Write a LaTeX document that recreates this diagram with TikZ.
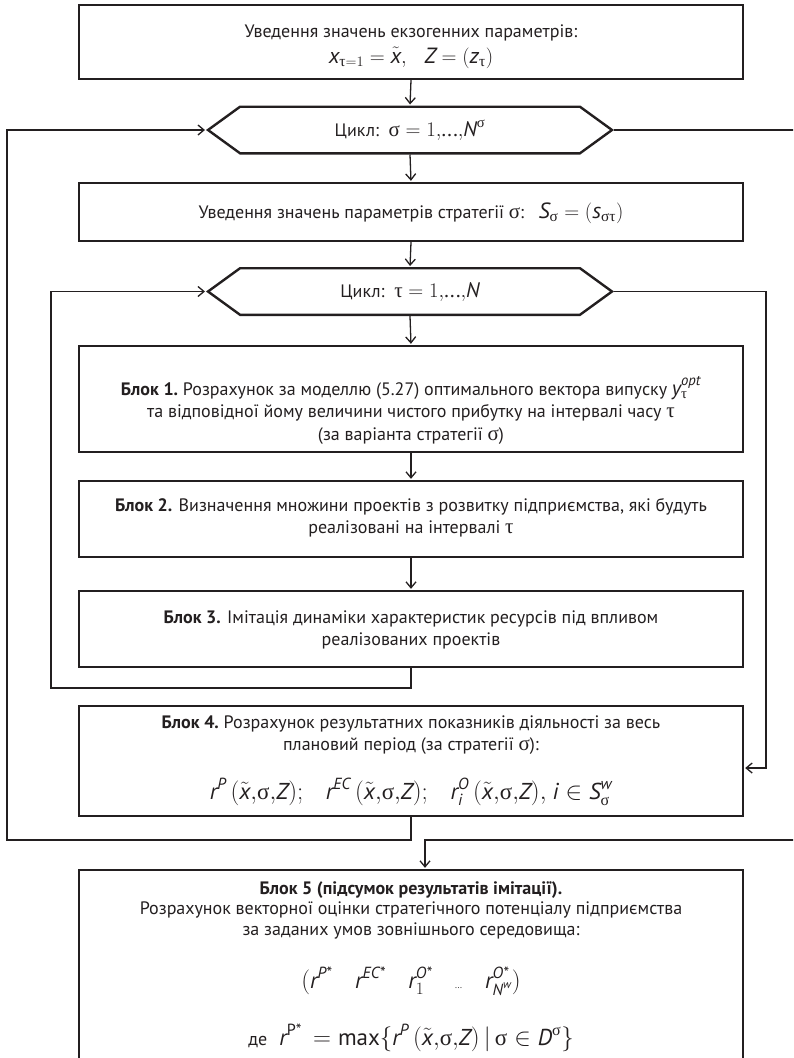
\documentclass[tikz,border=0pt]{standalone}
\usepackage{amsmath}
\usepackage{fontspec}
\setmainfont{PT Sans}
\newfontfamily\grk{Liberation Serif}
\usetikzlibrary{arrows.meta,shapes.symbols}
\newcommand\sgm{\text{\grk σ}}
\newcommand\tu{\text{\grk τ}}
\newcommand\vi[1]{\text{\itshape #1}}
\newcommand\xt{\tilde{\vi{x}}}
\newcommand\mg[1]{{\fontsize{21}{24}\selectfont #1}}
\definecolor{ink}{HTML}{231F20}
\begin{document}
\begin{tikzpicture}[x=1pt,y=-1pt,
  box/.style={draw=ink, line width=2.4pt, rectangle, minimum width=664pt, inner sep=0pt},
  hexa/.style={draw=ink, line width=2.4pt, signal, signal to=east and west, signal pointer angle=72, minimum width=404pt, minimum height=46.6pt, inner sep=0pt},
  txt/.style={align=center, inner sep=0pt, text=ink, font=\fontsize{18}{22.5}\selectfont},
  bigm/.style={font=\fontsize{23}{26}\selectfont},
  conn/.style={draw=ink, line width=1.3pt, shorten >=1pt, -{Straight Barb[length=6pt,width=10pt,line width=1.3pt]}}]
\useasboundingbox (0,0) rectangle (793,1058);
\clip (0,0) rectangle (793,1058);
% boxes and shapes
\node[box, minimum height=74pt] (top) at (411,42) {};
\node[txt] (ttop) at (411,46.5) {Уведення значень екзогенних параметрів:\\[3pt] {\fontsize{22}{24}\selectfont $\vi{x}_{\tu=1}=\xt{,}\ \ \ \vi{Z}=(\vi{z}_{\tu})$}};
\node[hexa] (hs) at (410,130) {};
\node[txt] (ths) at (410,130) {Цикл:\ \ \mg{$\sgm=1{,}\text{...}{,}\vi{N}^{\sgm}$}};
\node[box, minimum height=58pt] (par) at (411,212) {};
\node[txt] (tpar) at (411,213) {Уведення значень параметрів стратегії \mg{$\sgm$}:\ \ \ {\fontsize{22}{24}\selectfont$\vi{S}_{\sgm}=(\vi{s}_{\sgm\tu})$}};
\node[hexa] (ht) at (410,291.5) {};
\node[txt] (tht) at (410,292) {Цикл:\ \ \mg{$\tu=1{,}\text{...}{,}\vi{N}$}};
\node[box, minimum height=106pt] (b1) at (411,399) {};
\node[txt] (tb1) at (411,410) {\textbf{Блок 1.}\ Розрахунок за моделлю (5.27) оптимального вектора випуску \mg{$\vi{y}_{\tu}^{\vi{opt}}$}\\ та відповідної йому величини чистого прибутку на інтервалі часу \mg{$\tu$}\\ (за варіанта стратегії \mg{$\sgm$})};
\node[box, minimum height=76pt] (b2) at (411,519) {};
\node[txt] (tb2) at (411,518) {\textbf{Блок 2.} Визначення множини проектів з розвитку підприємства, які будуть\\ реалізовані на інтервалі \mg{$\tu$}};
\node[box, minimum height=76pt] (b3) at (411,629) {};
\node[txt] (tb3) at (411,630) {\textbf{Блок 3.} Імітація динаміки характеристик ресурсів під впливом\\ реалізованих проектів};
\node[box, minimum height=110.5pt] (b4) at (411,761) {};
\node[txt] (tb4) at (411,735) {\textbf{Блок 4.}\ Розрахунок результатних показників діяльності за весь\\ плановий період (за стратегії \mg{$\sgm$}):};
\node[txt, anchor=base] (mb4) at (411,799) {{\fontsize{23}{26}\selectfont $\vi{r}^{\vi{P}}\,(\xt{,}\sgm{,}\vi{Z});\ \ \ \vi{r}^{\vi{EC}}\,(\xt{,}\sgm{,}\vi{Z});\ \ \ \vi{r}_{\vi{i}}^{\vi{O}}\,(\xt{,}\sgm{,}\vi{Z}){,}\ \vi{i}\in \vi{S}_{\sgm}^{\vi{w}}$}};
\node[box, minimum height=210pt] (b5) at (411,975) {};
\node[txt, anchor=north, font=\fontsize{18}{20.5}\selectfont] (tb5) at (411,881) {\textbf{Блок 5 (підсумок результатів імітації).}\\ Розрахунок векторної оцінки стратегічного потенціалу підприємства\\ за заданих умов зовнішнього середовища:};
\node[txt, bigm, anchor=base] (vec) at (411,988) {$(\vi{r}^{\vi{P*}}\quad \vi{r}^{\vi{EC*}}\quad \vi{r}_1^{\vi{O*}}\quad \text{\small...}\quad \vi{r}_{\vi{N}^{\vi{w}}}^{\vi{O*}})$};
\node[txt, bigm, anchor=base] (de) at (411,1045) {{\fontsize{18}{20}\selectfont де}\ \ $\vi{r}^{\text{P*}}\,=\text{max}\{\vi{r}^{\vi{P}}\,(\xt{,}\sgm{,}\vi{Z})\,|\,\sgm\in \vi{D}^{\sgm}\}$};
% connectors
\draw[conn] (top.south) -- (hs.north);
\draw[conn] (hs.south) -- (par.north);
\draw[conn] (par.south) -- (ht.north);
\draw[conn] (ht.south) -- (b1.north);
\draw[conn] (b1.south) -- (b2.north);
\draw[conn] (b2.south) -- (b3.north);
\coordinate (lp1) at (51,688);
\draw[conn] (b3.south) |- (lp1) |- (ht.west);
\coordinate (rp1) at (766,768);
\draw[conn] (ht.east) -| (rp1) -- (b4.east |- rp1);
\coordinate (lp2) at (7,840);
\draw[conn] (b4.south) |- (lp2) |- (hs.west);
\coordinate (rp2) at (805,840);
\coordinate (rp3) at (425,840);
\draw[conn] (hs.east) -| (rp2) -- (rp3) -- (rp3 |- b5.north);
\end{tikzpicture}
\end{document}
